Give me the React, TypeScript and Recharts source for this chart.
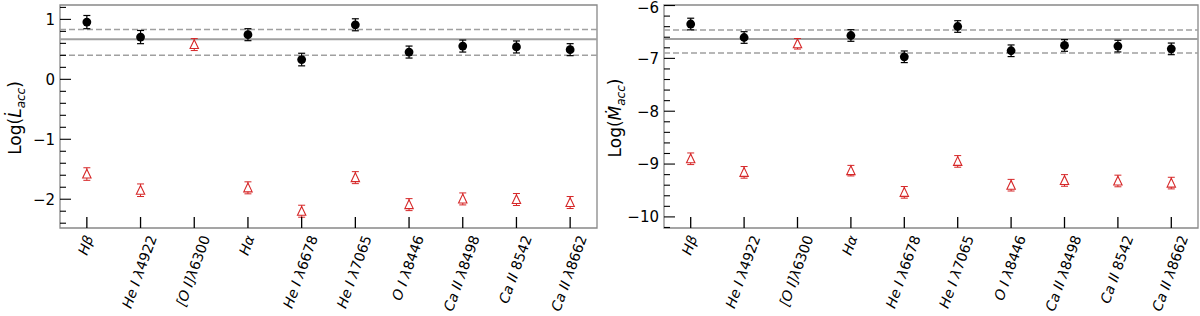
import React from "react";
import {
  ScatterChart,
  Scatter,
  XAxis,
  YAxis,
  ErrorBar,
  ReferenceLine,
  ReferenceArea,
} from "recharts";

// emission lines (x categories): italic part + upright part
const lineLabels = [
  { it: "Hβ", up: "" },
  { it: "He I λ", up: "4922" },
  { it: "[O I]λ", up: "6300" },
  { it: "Hα", up: "" },
  { it: "He I λ", up: "6678" },
  { it: "He I λ", up: "7065" },
  { it: "O I λ", up: "8446" },
  { it: "Ca II λ", up: "8498" },
  { it: "Ca II ", up: "8542" },
  { it: "Ca II λ", up: "8662" },
];
const lineIdx = [0, 1, 2, 3, 4, 5, 6, 7, 8, 9];

// Log(L_acc)
const lAccBlack = [0.955, 0.705, null, 0.745, 0.33, 0.91, 0.455, 0.555, 0.54, 0.495];
const lAccBlackErr = [0.11, 0.11, null, 0.1, 0.105, 0.1, 0.1, 0.1, 0.1, 0.1];
const lAccRed = [-1.58, -1.85, 0.58, -1.81, -2.2, -1.64, -2.09, -1.995, -2.005, -2.055];
const lAccRedErr = [0.105, 0.105, 0.1, 0.1, 0.1, 0.1, 0.1, 0.1, 0.1, 0.1];
const lAccMean = 0.67;
const lAccBand = [0.4, 0.833];
const lAccDomain = [-2.48, 1.24];
const lAccMajor = [-2, -1, 0, 1];
const lAccMinor = [-2.4, -2.2, -1.8, -1.6, -1.4, -1.2, -0.8, -0.6, -0.4, -0.2, 0.2, 0.4, 0.6, 0.8, 1.2];

// Log(M_acc)
const mAccBlack = [-6.35, -6.605, null, -6.567, -6.97, -6.397, -6.856, -6.756, -6.768, -6.82];
const mAccBlackErr = [0.11, 0.11, null, 0.11, 0.11, 0.11, 0.11, 0.11, 0.11, 0.11];
const mAccRed = [-8.9, -9.157, -6.724, -9.125, -9.535, -8.95, -9.4, -9.31, -9.32, -9.36];
const mAccRedErr = [0.11, 0.11, 0.1, 0.1, 0.11, 0.11, 0.11, 0.11, 0.11, 0.11];
const mAccMean = -6.635;
const mAccBand = [-6.9, -6.465];
const mAccDomain = [-10.21, -5.99];
const mAccMajor = [-10, -9, -8, -7, -6];
const mAccMinor = [
  -10.2, -9.8, -9.6, -9.4, -9.2, -8.8, -8.6, -8.4, -8.2, -7.8, -7.6, -7.4, -7.2, -6.8, -6.6, -6.4, -6.2,
];

const RED = "#d62728";
const FONT = "DejaVu Sans";

const toPoints = (vals: (number | null)[], errs: (number | null)[]) =>
  lineIdx
    .filter((i) => vals[i] !== null)
    .map((i) => ({ i, v: vals[i] as number, e: errs[i] as number }));

const ctx = typeof document !== "undefined" ? document.createElement("canvas").getContext("2d") : null;
function textWidth(s: string, italic: boolean, size: number) {
  if (!s) return 0;
  if (!ctx) return s.length * size * 0.6;
  ctx.font = `${italic ? "italic " : ""}${size}px '${FONT}'`;
  return ctx.measureText(s).width;
}

function XTick(props: any) {
  const { x, y, payload } = props;
  const lab = lineLabels[payload.value];
  if (!lab) return null;
  const fs = 14;
  const L = textWidth(lab.it, true, fs) + textWidth(lab.up, false, fs);
  const a = 0.76 * fs;
  const d = 0.24 * fs;
  const ang = (70 * Math.PI) / 180;
  const c = Math.cos(ang);
  const s = Math.sin(ang);
  const top = y + 6;
  const px = x - (c * L + s * (d - a)) / 2;
  const py = top + s * L + c * a;
  return (
    <g>
      <line x1={x} y1={y} x2={x} y2={y - 11} stroke="#000" strokeWidth={1.3} />
      <text
        x={px}
        y={py}
        transform={`rotate(-70 ${px} ${py})`}
        fontSize={fs}
        fontFamily={FONT}
        fill="#000"
      >
        <tspan fontStyle="italic">{lab.it}</tspan>
        {lab.up ? <tspan>{lab.up}</tspan> : null}
      </text>
    </g>
  );
}

function YTick(props: any) {
  const { x, y, payload, majors } = props;
  const v = payload.value;
  const major = majors.includes(v);
  return (
    <g>
      <line x1={x} y1={y} x2={x + (major ? 11 : 6)} y2={y} stroke="#000" strokeWidth={1.1} />
      {major && (
        <text
          x={x - 5}
          y={Math.max(y + 5.4, 13)}
          textAnchor="end"
          fontSize={15}
          fontFamily={FONT}
          fill="#000"
        >
          {String(v).replace("-", "\u2212")}
        </text>
      )}
    </g>
  );
}

function Dot(props: any) {
  const { cx, cy } = props;
  if (cx == null || cy == null) return null;
  return <circle cx={cx} cy={cy} r={4.4} fill="#000" />;
}

function Tri(props: any) {
  const { cx, cy } = props;
  if (cx == null || cy == null) return null;
  return (
    <polygon
      points={`${cx},${cy - 4.8} ${cx - 4.2},${cy + 4} ${cx + 4.2},${cy + 4}`}
      fill="#fff"
      stroke={RED}
      strokeWidth={1.1}
    />
  );
}

function Panel({
  black,
  blackErr,
  red,
  redErr,
  mean,
  band,
  domain,
  majors,
  minors,
  symbol,
  yWidth,
  right,
}: any) {
  const ticks = [...minors, ...majors].sort((p: number, q: number) => p - q);
  return (
    <ScatterChart width={600} height={316} margin={{ top: 5, right, left: 0, bottom: 0 }}>
      <XAxis
        type="number"
        dataKey="i"
        domain={[-0.5, 9.5]}
        ticks={lineIdx}
        interval={0}
        allowDataOverflow
        axisLine={false}
        tickLine={false}
        tickSize={0}
        tickMargin={0}
        height={88}
        tick={<XTick />}
      />
      <YAxis
        type="number"
        dataKey="v"
        domain={domain}
        ticks={ticks}
        interval={0}
        allowDataOverflow
        axisLine={false}
        tickLine={false}
        tickSize={0}
        tickMargin={0}
        width={yWidth}
        tick={(p: any) => <YTick {...p} majors={majors} />}
        label={{
          content: () => (
            <text
              transform="translate(20.5,118) rotate(-90)"
              textAnchor="middle"
              fontSize={17}
              fontFamily={FONT}
              fill="#000"
            >
              <tspan>Log(</tspan>
              <tspan fontStyle="italic">{symbol + "\u0307"}</tspan>
              <tspan fontStyle="italic" fontSize={12} dy={4}>
                acc
              </tspan>
              <tspan dy={-4}>)</tspan>
            </text>
          ),
        }}
      />
      <ReferenceLine y={band[1]} stroke="#a0a0a0" strokeWidth={1.5} strokeDasharray="6 3" />
      <ReferenceLine y={mean} stroke="#a0a0a0" strokeWidth={2} />
      <ReferenceLine y={band[0]} stroke="#a0a0a0" strokeWidth={1.5} strokeDasharray="6 3" />
      <Scatter data={toPoints(red, redErr)} shape={<Tri />} isAnimationActive={false}>
        <ErrorBar dataKey="e" direction="y" width={3.5} stroke={RED} strokeWidth={1} />
      </Scatter>
      <Scatter data={toPoints(black, blackErr)} shape={<Dot />} isAnimationActive={false}>
        <ErrorBar dataKey="e" direction="y" width={3.5} stroke="#000" strokeWidth={1.2} />
      </Scatter>
      <ReferenceArea
        x1={-0.5}
        x2={9.5}
        y1={domain[0]}
        y2={domain[1]}
        fill="none"
        stroke="#888"
        strokeWidth={1.3}
      />
    </ScatterChart>
  );
}

export default function App() {
  return (
    <div style={{ position: "absolute", left: 0, top: 0, width: 1200, height: 316, background: "#fff" }}>
      <div style={{ position: "absolute", left: 0, top: 0 }}>
        <Panel
          black={lAccBlack}
          blackErr={lAccBlackErr}
          red={lAccRed}
          redErr={lAccRedErr}
          mean={lAccMean}
          band={lAccBand}
          domain={lAccDomain}
          majors={lAccMajor}
          minors={lAccMinor}
          symbol="L"
          yWidth={60}
          right={3}
        />
      </div>
      <div style={{ position: "absolute", left: 600, top: 0 }}>
        <Panel
          black={mAccBlack}
          blackErr={mAccBlackErr}
          red={mAccRed}
          redErr={mAccRedErr}
          mean={mAccMean}
          band={mAccBand}
          domain={mAccDomain}
          majors={mAccMajor}
          minors={mAccMinor}
          symbol="M"
          yWidth={64}
          right={2}
        />
      </div>
    </div>
  );
}
